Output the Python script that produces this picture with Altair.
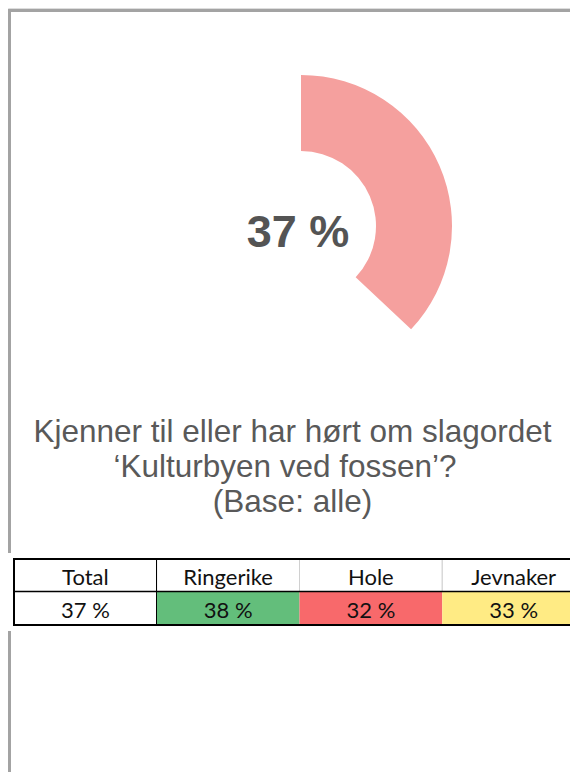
import math
import altair as alt
import pandas as pd

# ---------------- data ----------------
share_total = [37]
regions = ["Total", "Ringerike", "Hole", "Jevnaker"]
region_values = [37, 38, 32, 33]
cell_colors = ["#FFFFFF", "#63BE7B", "#F8696B", "#FFEB84"]
title_lines = [
    "Kjenner til eller har hørt om slagordet",
    "‘Kulturbyen ved fossen’?",
    "(Base: alle)",
]
row_names = ["head", "value"]

# ---------------- layout helpers (page px -> chart px) ----------------
W, H = 562, 764
OX, OY = 8, 8


def px(x):
    return x - OX


def py(y):
    return y - OY


FRAME = "#a3a3a3"

# ---------------- background frame ----------------
frame_df = pd.DataFrame({"k": [0]})
frame_top = alt.Chart(frame_df).mark_rule(color=FRAME, strokeWidth=3).encode(
    x=alt.value(px(8)), x2=alt.value(px(600)), y=alt.value(py(10.5))
)
frame_left = alt.Chart(frame_df).mark_rule(color=FRAME, strokeWidth=3).encode(
    x=alt.value(px(9.5)), y=alt.value(py(9)), y2=alt.value(py(800))
)

# ---------------- donut ----------------
donut_df = pd.DataFrame({"share": share_total})
donut = alt.Chart(donut_df).mark_arc(
    outerRadius=151, innerRadius=75, color="#F5A09E"
).encode(
    theta=alt.Theta(
        "share:Q",
        stack=True,
        scale=alt.Scale(domain=[0, 100], range=[0, 2 * math.pi]),
    ),
    x=alt.value(px(301)),
    y=alt.value(py(226)),
)

donut_label = alt.Chart(donut_df).transform_calculate(
    label="datum.share + ' %'"
).mark_text(
    font="Liberation Sans", fontSize=45, fontWeight="bold", color="#545454",
    align="center", baseline="alphabetic",
).encode(
    text="label:N", x=alt.value(px(298)), y=alt.value(py(247))
)

# ---------------- title ----------------
title_layers = []
title_x = [292.5, 285, 292.5]
title_y = [442, 477, 512]
for i, line in enumerate(title_lines):
    tdf = pd.DataFrame({"t": [line]})
    title_layers.append(
        alt.Chart(tdf).mark_text(
            font="Liberation Sans", fontSize=31.5, color="#595959",
            align="center", baseline="alphabetic",
        ).encode(text="t:N", x=alt.value(px(title_x[i])), y=alt.value(py(title_y[i])))
    )

# ---------------- table ----------------
head_df = pd.DataFrame({"region": regions, "row": "head", "label": regions})
value_df = pd.DataFrame(
    {"region": regions, "row": "value", "v": region_values}
)
value_df["label"] = value_df["v"].astype(str) + " %"

xs = alt.Scale(type="band", domain=regions, range=[px(14), px(585)],
               paddingInner=0, paddingOuter=0)
ys = alt.Scale(type="band", domain=row_names, range=[py(559), py(625)],
               paddingInner=0, paddingOuter=0)

X = alt.X("region:N", scale=xs, axis=None)
Y = alt.Y("row:N", scale=ys, axis=None)

table_bg = alt.Chart(frame_df).mark_rect(color="white").encode(
    x=alt.value(px(6)), x2=alt.value(px(600)),
    y=alt.value(py(553)), y2=alt.value(py(631)),
)

head_cells = alt.Chart(head_df).mark_rect(
    fill="white", stroke="#d0d0d0", strokeWidth=1
).encode(x=X, y=Y)

value_cells = alt.Chart(value_df).mark_rect(strokeWidth=0).encode(
    x=X, y=Y,
    fill=alt.Fill("region:N", scale=alt.Scale(domain=regions, range=cell_colors),
                  legend=None),
)

cell_text_head = alt.Chart(head_df).mark_text(
    font="Lato", fontSize=22, color="#111111", baseline="middle", dy=2
).encode(x=X, y=Y, text="label:N")

cell_text_value = alt.Chart(value_df).mark_text(
    font="Lato", fontSize=22, color="#111111", baseline="middle", dy=2
).encode(x=X, y=Y, text="label:N")

table_frame = alt.Chart(frame_df).mark_rect(
    filled=False, stroke="#000000", strokeWidth=2
).encode(
    x=alt.value(px(14)), x2=alt.value(px(585)),
    y=alt.value(py(559)), y2=alt.value(py(625)),
)
row_sep = alt.Chart(frame_df).mark_rule(color="#000000", strokeWidth=1.5).encode(
    x=alt.value(px(14)), x2=alt.value(px(585)), y=alt.value(py(591.5))
)
col_sep = alt.Chart(frame_df).mark_rule(color="#000000", strokeWidth=1).encode(
    x=alt.value(px(156.5)), y=alt.value(py(559)), y2=alt.value(py(625))
)

chart = alt.layer(
    frame_top, frame_left, donut, donut_label, *title_layers,
    table_bg, head_cells, value_cells, cell_text_head, cell_text_value,
    table_frame, row_sep, col_sep,
).properties(
    width=W, height=H, padding=0,
    autosize=alt.AutoSizeParams(type="none"),
).configure_view(stroke=None).configure(background="white")

chart.save("out.html", embed_options={"renderer": "svg", "actions": False})
